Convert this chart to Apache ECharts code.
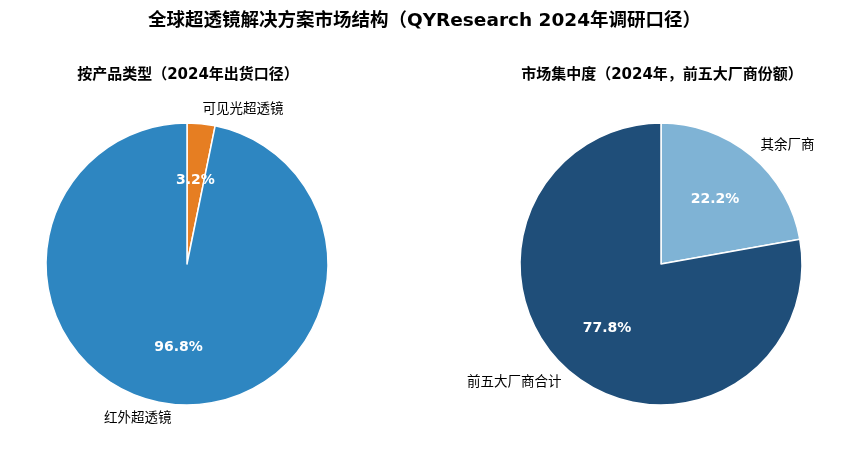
<!DOCTYPE html>
<html>
<head>
<meta charset="utf-8">
<script src="https://cdn.jsdelivr.net/npm/echarts@6/dist/echarts.min.js"></script>
<style>
  html, body { margin: 0; padding: 0; background: #fff; }
  #container { width: 849px; height: 452px; }
</style>
</head>
<body>
<div id="container"></div>
<script>
// 数据
var typeNames = ['可见光超透镜', '红外超透镜'];
var typeValues = [3.2, 96.8];
var typeColors = ['#E67E22', '#2E86C1'];

var shareNames = ['其余厂商', '前五大厂商合计'];
var shareValues = [22.2, 77.8];
var shareColors = ['#7FB3D5', '#1F4E79'];

var FONT = 'DejaVu Sans, Noto Sans CJK SC, sans-serif';
var R = 141;

function buildData(names, values, colors) {
    var list = [];
    for (var i = 0; i < names.length; i++) {
        list.push({ name: names[i], value: values[i], itemStyle: { color: colors[i] } });
    }
    return list;
}

// 饼图本体 + 外部名称标签（1.1r 处）
function mainPie(center, names, values, colors) {
    return {
        type: 'pie',
        center: center,
        radius: [0, R],
        startAngle: 90,
        clockwise: true,
        avoidLabelOverlap: false,
        silent: true,
        data: buildData(names, values, colors),
        itemStyle: { borderColor: '#fff', borderWidth: 1.5 },
        label: {
            show: true,
            position: 'outside',
            formatter: '{b}',
            fontSize: 13.5,
            color: '#000',
            fontFamily: FONT,
            distanceToLabelLine: 0
        },
        labelLine: { show: false, length: R * 0.1, length2: 0 },
        emphasis: { disabled: true }
    };
}

// 百分比标签（约 0.6r 处），透明扇区
function pctPie(center, names, values) {
    var data = [];
    for (var i = 0; i < names.length; i++) {
        data.push({ name: names[i], value: values[i] });
    }
    return {
        type: 'pie',
        center: center,
        radius: [0, R * 1.15],
        startAngle: 90,
        clockwise: true,
        silent: true,
        data: data,
        itemStyle: { color: 'rgba(0,0,0,0)', borderWidth: 0 },
        label: {
            show: true,
            position: 'inside',
            formatter: function (p) { return p.value.toFixed(1) + '%'; },
            fontSize: 14,
            fontWeight: 'bold',
            color: '#fff',
            fontFamily: FONT
        },
        labelLine: { show: false },
        emphasis: { disabled: true },
        z: 3
    };
}

var myChart = echarts.init(document.getElementById('container'));
var option = {
    backgroundColor: '#fff',
    animation: false,
    title: [{
        text: '全球超透镜解决方案市场结构（QYResearch 2024年调研口径）',
        left: 'center',
        top: 7,
        textStyle: { fontSize: 18.5, fontWeight: 'bold', color: '#000', fontFamily: FONT }
    }, {
        text: '按产品类型（2024年出货口径）',
        left: 183,
        top: 63,
        textAlign: 'center',
        textStyle: { fontSize: 15, fontWeight: 'bold', color: '#000', fontFamily: FONT }
    }, {
        text: '市场集中度（2024年，前五大厂商份额）',
        left: 657,
        top: 63,
        textAlign: 'center',
        textStyle: { fontSize: 15, fontWeight: 'bold', color: '#000', fontFamily: FONT }
    }],
    series: [
        mainPie([187, 264], typeNames, typeValues, typeColors),
        pctPie([187, 264], typeNames, typeValues),
        mainPie([661, 264], shareNames, shareValues, shareColors),
        pctPie([661, 264], shareNames, shareValues)
    ]
};
myChart.setOption(option);
</script>
</body>
</html>
